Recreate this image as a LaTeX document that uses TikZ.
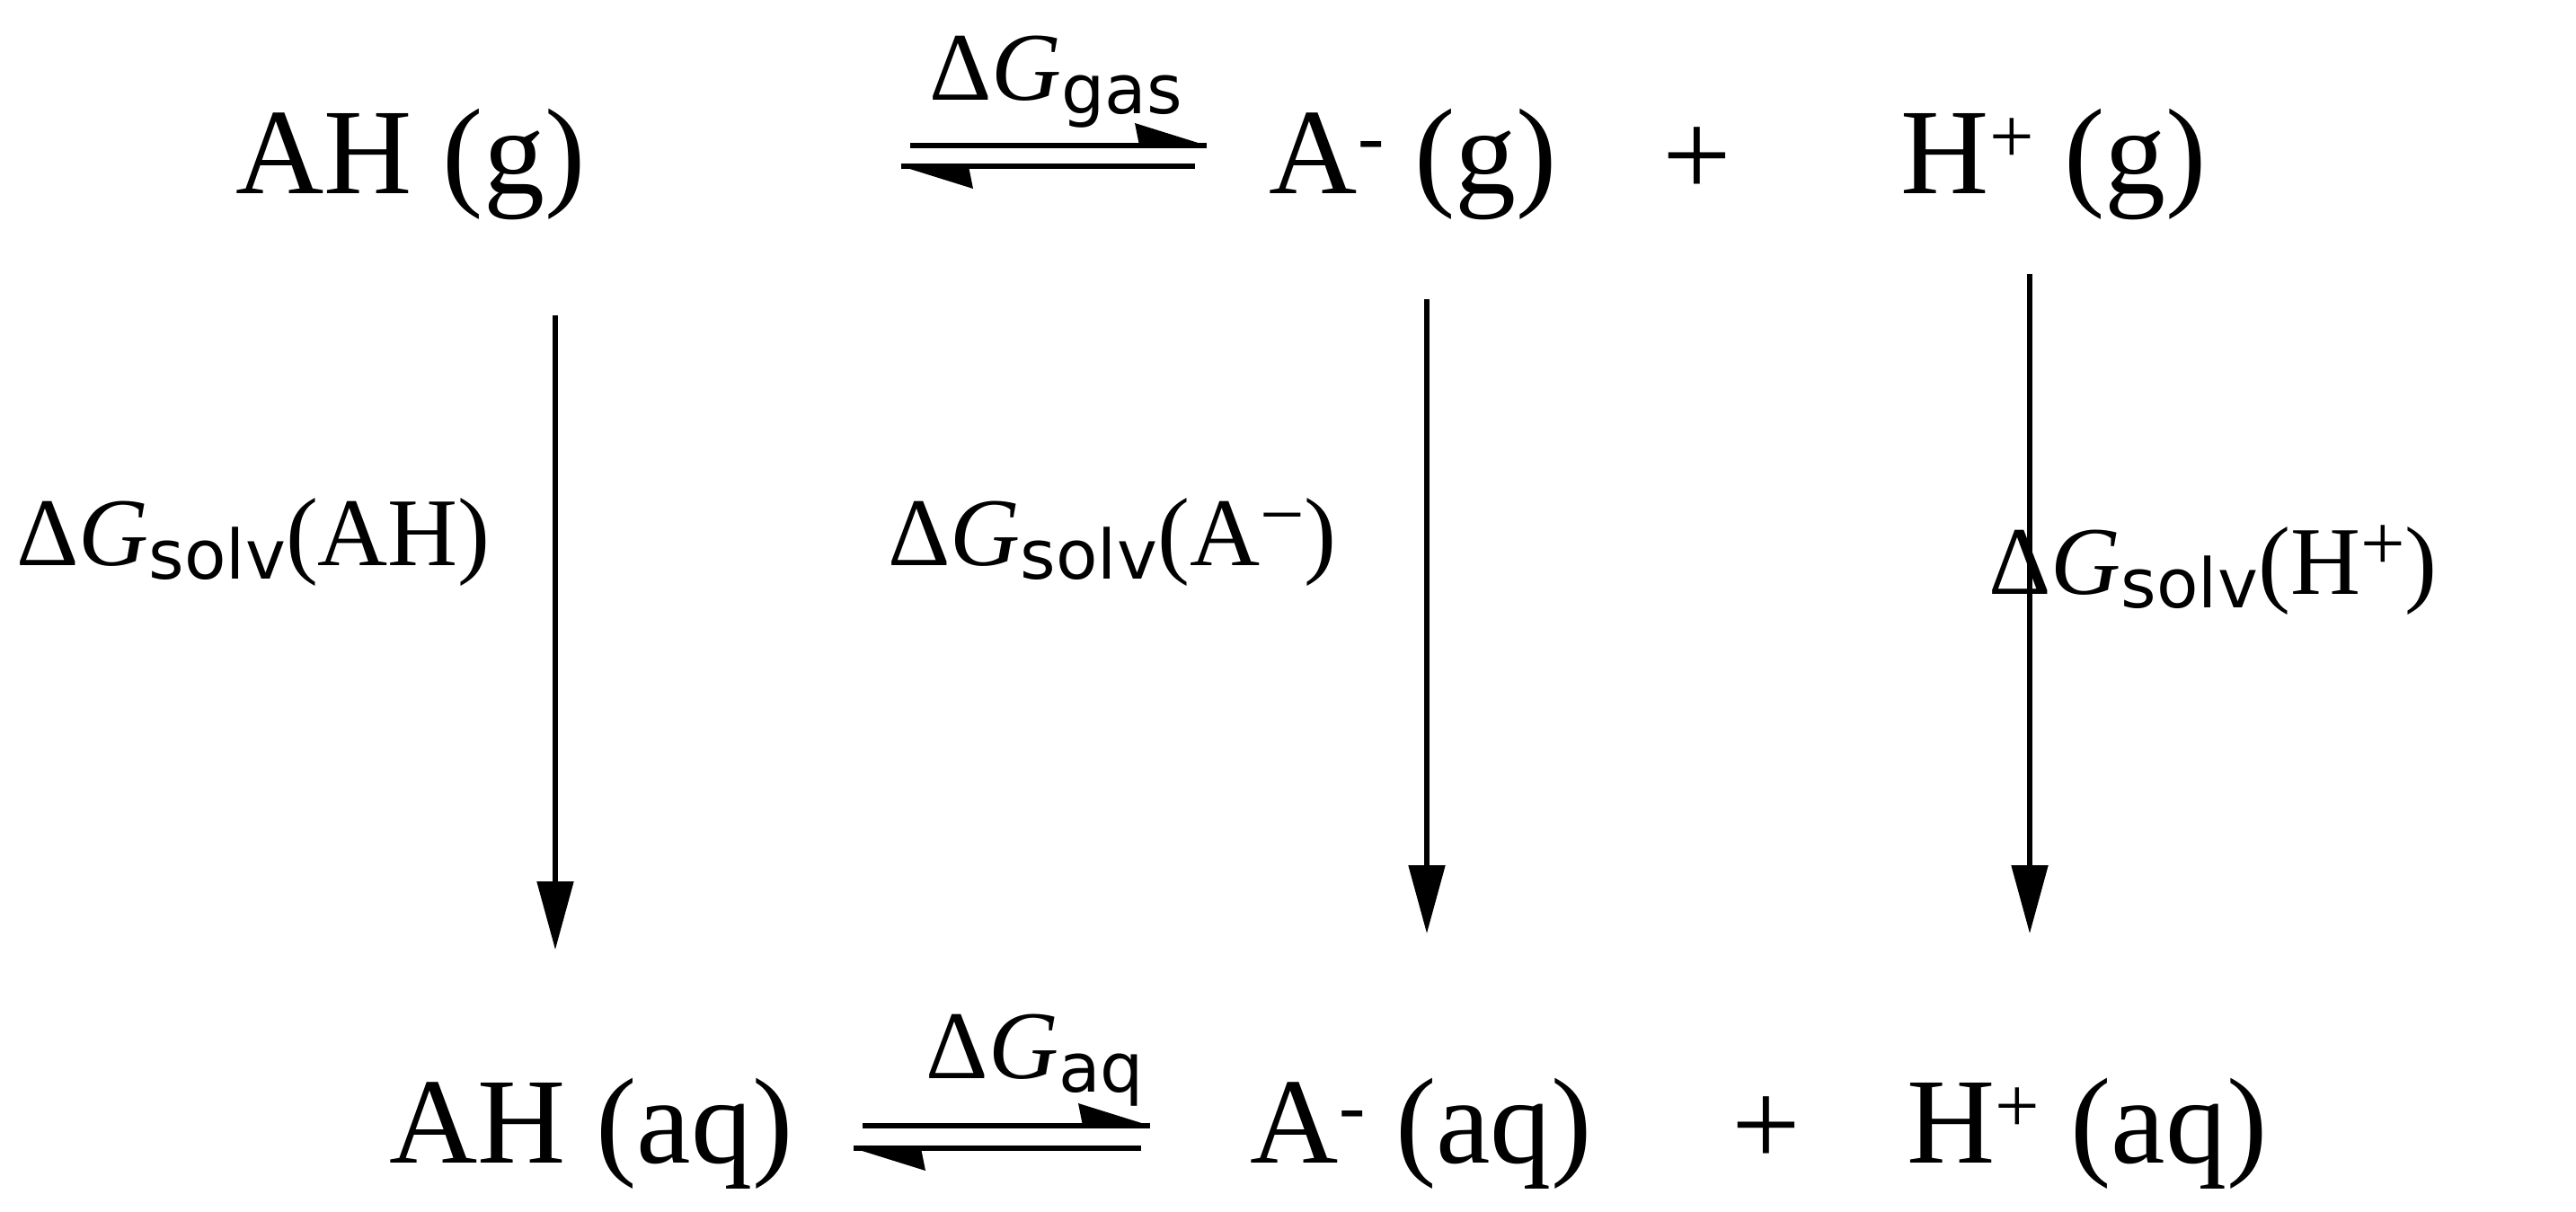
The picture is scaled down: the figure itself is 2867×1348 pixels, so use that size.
\documentclass[tikz,border=0pt]{standalone}
\usepackage{fontspec}
\setmainfont{Liberation Serif}
\newfontfamily\labsans{DejaVu Sans}
\usetikzlibrary{arrows.meta}
\begin{document}
\begin{tikzpicture}[x=0.5pt,y=-0.5pt,
  sp/.style={font=\fontsize{68}{70}\selectfont, inner sep=0pt},
  lab/.style={font=\fontsize{54}{58}\selectfont, inner sep=0pt, anchor=west},
  vert/.style={line width=2.6pt,-{Triangle[length=38pt,width=20pt]}},
  harp/.style={line width=2.8pt},
  barb/.style={fill=black}]
\useasboundingbox (0,0) rectangle (2867,1348);
\newcommand{\dG}[1]{Δ\textit{G}\raisebox{-0.3ex}{\labsans\fontsize{38}{40}\selectfont #1}}
\newcommand{\sps}[1]{\raisebox{0.55ex}{\fontsize{44}{46}\selectfont #1}}
% top row
\node[sp] (ahg) at (457,183) {AH (g)};
\node[sp] (ag) at (1573,183) {A\sps{-} (g)};
\node[sp] (p1) at (1889,180) {+};
\node[sp] (hg) at (2286,183) {H\sps{+} (g)};
% bottom row
\node[sp] (ahaq) at (658,1262) {AH (aq)};
\node[sp] (aaq) at (1582,1262) {A\sps{-} (aq)};
\node[sp] (p2) at (1966,1259) {+};
\node[sp] (haq) at (2323,1262) {H\sps{+} (aq)};
% equilibrium arrows top
\coordinate (t1) at (1013,162); \coordinate (t2) at (1343,162);
\coordinate (b1) at (1003,185); \coordinate (b2) at (1330,185);
\draw[harp] (t1) -- (t2);
\fill[barb] (t2) -- ++(-80,-25) -- ++(5,25) -- cycle;
\draw[harp] (b2) -- (b1);
\fill[barb] (b1) -- ++(80,25) -- ++(-5,-25) -- cycle;
\node[lab,anchor=center] (lg) at (1175,91) {\dG{gas}};
% equilibrium arrows bottom
\coordinate (t3) at (960,1253); \coordinate (t4) at (1280,1253);
\coordinate (b3) at (950,1278); \coordinate (b4) at (1270,1278);
\draw[harp] (t3) -- (t4);
\fill[barb] (t4) -- ++(-80,-25) -- ++(5,25) -- cycle;
\draw[harp] (b4) -- (b3);
\fill[barb] (b3) -- ++(80,25) -- ++(-5,-25) -- cycle;
\node[lab,anchor=center] (laq) at (1152,1180) {\dG{aq}};
% vertical arrows
\coordinate (v1a) at (618,351); \coordinate (v1b) at (618,1057);
\coordinate (v2a) at (1588,333); \coordinate (v2b) at (1588,1039);
\coordinate (v3a) at (2259,305); \coordinate (v3b) at (2259,1039);
\draw[vert] (v1a) -- (v1b);
\draw[vert] (v2a) -- (v2b);
\draw[vert] (v3a) -- (v3b);
\node[lab] (l1) at (18,604) {\dG{solv}(AH)};
\node[lab] (l2) at (988,604) {\dG{solv}(A\sps{−})};
\node[lab] (l3) at (2213,635) {\dG{solv}(H\sps{+})};
\end{tikzpicture}
\end{document}
